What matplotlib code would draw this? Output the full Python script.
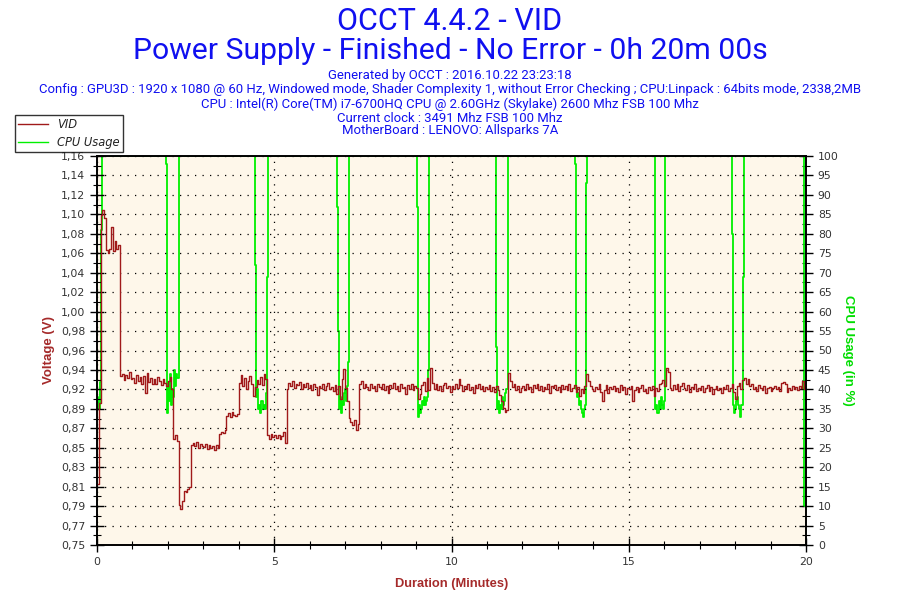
import numpy as np
import matplotlib
matplotlib.use("Agg")
import matplotlib.pyplot as plt
from matplotlib.ticker import FixedLocator, FixedFormatter, MultipleLocator

# ---------------- data ----------------
title_lines = ["OCCT 4.4.2 - VID",
               "Power Supply - Finished - No Error - 0h 20m 00s"]
info_lines = ["Generated by OCCT : 2016.10.22 23:23:18",
              "Config : GPU3D : 1920 x 1080 @ 60 Hz, Windowed mode, Shader Complexity 1, without Error Checking ; CPU:Linpack : 64bits mode, 2338,2MB",
              "CPU : Intel(R) Core(TM) i7-6700HQ CPU @ 2.60GHz (Skylake) 2600 Mhz FSB 100 Mhz",
              "Current clock : 3491 Mhz FSB 100 Mhz",
              "MotherBoard : LENOVO: Allsparks 7A"]

# VID samples every 0.05 minute (one row per minute)
vid = [
    0.815, 0.900, 1.100, 1.105, 1.096, 1.062, 1.059, 1.064, 1.087, 1.061, 1.072, 1.063, 1.068, 0.929, 0.931, 0.925, 0.930, 0.927, 0.933, 0.926,
    0.927, 0.922, 0.930, 0.924, 0.928, 0.921, 0.929, 0.911, 0.932, 0.923, 0.927, 0.920, 0.926, 0.920, 0.928, 0.924, 0.919, 0.926, 0.922, 0.918,
    0.924, 0.928, 0.915, 0.862, 0.867, 0.860, 0.792, 0.788, 0.797, 0.807, 0.806, 0.809, 0.811, 0.856, 0.858, 0.855, 0.859, 0.853, 0.857, 0.855,
    0.854, 0.857, 0.852, 0.856, 0.853, 0.855, 0.851, 0.856, 0.853, 0.868, 0.870, 0.869, 0.872, 0.887, 0.890, 0.886, 0.891, 0.888, 0.887, 0.889,
    0.922, 0.930, 0.918, 0.927, 0.915, 0.924, 0.929, 0.920, 0.908, 0.917, 0.925, 0.921, 0.928, 0.919, 0.931, 0.926, 0.866, 0.862, 0.868, 0.864,
    0.866, 0.863, 0.867, 0.862, 0.865, 0.870, 0.858, 0.915, 0.922, 0.918, 0.924, 0.916, 0.921, 0.919, 0.923, 0.915, 0.920, 0.917, 0.922, 0.916,
    0.919, 0.914, 0.921, 0.917, 0.909, 0.918, 0.916, 0.920, 0.914, 0.918, 0.922, 0.915, 0.917, 0.913, 0.919, 0.910, 0.918, 0.905, 0.926, 0.936,
    0.916, 0.903, 0.884, 0.880, 0.877, 0.882, 0.872, 0.878, 0.921, 0.924, 0.916, 0.920, 0.917, 0.914, 0.921, 0.916, 0.918, 0.913, 0.920, 0.917,
    0.915, 0.921, 0.914, 0.918, 0.911, 0.919, 0.916, 0.922, 0.915, 0.918, 0.913, 0.920, 0.916, 0.917, 0.910, 0.919, 0.915, 0.921, 0.914, 0.918,
    0.916, 0.905, 0.910, 0.919, 0.923, 0.913, 0.927, 0.914, 0.937, 0.922, 0.915, 0.920, 0.914, 0.918, 0.913, 0.919, 0.922, 0.916, 0.918, 0.912,
    0.918, 0.915, 0.921, 0.916, 0.926, 0.919, 0.913, 0.918, 0.915, 0.920, 0.914, 0.917, 0.911, 0.919, 0.916, 0.921, 0.915, 0.918, 0.913, 0.917,
    0.915, 0.919, 0.913, 0.917, 0.912, 0.918, 0.914, 0.909, 0.903, 0.895, 0.891, 0.893, 0.932, 0.924, 0.917, 0.920, 0.914, 0.918, 0.912, 0.916,
    0.918, 0.914, 0.920, 0.915, 0.917, 0.912, 0.919, 0.916, 0.921, 0.914, 0.918, 0.913, 0.917, 0.915, 0.920, 0.911, 0.918, 0.916, 0.919, 0.914,
    0.917, 0.912, 0.919, 0.915, 0.918, 0.914, 0.920, 0.913, 0.916, 0.919, 0.912, 0.917, 0.908, 0.915, 0.911, 0.918, 0.931, 0.924, 0.918, 0.915,
    0.913, 0.917, 0.915, 0.920, 0.912, 0.903, 0.914, 0.919, 0.911, 0.917, 0.915, 0.918, 0.913, 0.916, 0.912, 0.919, 0.914, 0.917, 0.910, 0.916,
    0.915, 0.918, 0.903, 0.914, 0.917, 0.912, 0.916, 0.919, 0.913, 0.915, 0.911, 0.917, 0.914, 0.918, 0.908, 0.916, 0.913, 0.920, 0.922, 0.925,
    0.918, 0.937, 0.933, 0.916, 0.914, 0.919, 0.915, 0.921, 0.913, 0.918, 0.922, 0.916, 0.914, 0.919, 0.912, 0.917, 0.915, 0.920, 0.913, 0.916,
    0.914, 0.918, 0.912, 0.916, 0.919, 0.913, 0.917, 0.910, 0.915, 0.918, 0.914, 0.916, 0.911, 0.917, 0.915, 0.919, 0.913, 0.916, 0.921, 0.912,
    0.905, 0.918, 0.922, 0.915, 0.925, 0.927, 0.920, 0.926, 0.918, 0.921, 0.915, 0.917, 0.913, 0.919, 0.916, 0.914, 0.918, 0.911, 0.916, 0.917,
    0.913, 0.916, 0.918, 0.915, 0.917, 0.913, 0.922, 0.923, 0.920, 0.912, 0.916, 0.914, 0.918, 0.915, 0.917, 0.914, 0.918, 0.916, 0.924, 0.915,
    0.917,
]
vid_minutes = np.arange(len(vid)) * 0.05

# CPU usage breakpoints (value holds until next time)
cpu_minutes = [
    0.00, 0.04, 0.08, 0.11, 0.14,
    1.95, 1.97, 2.00, 2.03, 2.06, 2.09, 2.12, 2.15, 2.18, 2.21, 2.24, 2.27, 2.30, 2.32,
    4.47, 4.49, 4.52, 4.55, 4.58, 4.61, 4.64, 4.67, 4.70, 4.73, 4.76, 4.79, 4.83,
    6.78, 6.80, 6.82, 6.85, 6.88, 6.91, 6.94, 6.97, 7.00, 7.03, 7.06, 7.09, 7.12,
    9.03, 9.05, 9.08, 9.11, 9.14, 9.17, 9.20, 9.23, 9.26, 9.29, 9.32, 9.34, 9.36,
    11.26, 11.28, 11.31, 11.34, 11.37, 11.40, 11.43, 11.46, 11.49, 11.52, 11.55, 11.58,
    13.48, 13.50, 13.53, 13.56, 13.59, 13.62, 13.65, 13.68, 13.71, 13.74, 13.77, 13.79, 13.81,
    15.73, 15.75, 15.78, 15.81, 15.84, 15.87, 15.90, 15.93, 15.96, 15.99, 16.01, 16.03,
    17.92, 17.94, 17.97, 18.00, 18.03, 18.06, 18.09, 18.12, 18.15, 18.18, 18.21, 18.23, 18.25,
    19.93, 19.95, 20.00,
]
cpu_usage = [
    38, 35, 42, 81, 100,
    98, 34, 42, 37, 44, 36, 40, 38, 45, 41, 44, 43, 47, 100,
    72, 38, 40, 35, 36, 34, 37, 35, 36, 35, 39, 69, 100,
    87, 55, 35, 38, 34, 37, 36, 39, 40, 37, 41, 47, 100,
    87, 33, 36, 34, 35, 37, 36, 38, 36, 37, 38, 45, 100,
    51, 35, 37, 34, 36, 35, 38, 36, 37, 39, 40, 100,
    98, 40, 38, 39, 36, 37, 35, 34, 33, 35, 36, 93, 100,
    37, 35, 36, 34, 37, 35, 38, 36, 35, 37, 79, 100,
    80, 36, 34, 35, 37, 38, 36, 35, 33, 36, 38, 69, 100,
    55, 10, 10,
]

volt_tick_labels = ["0,75", "0,77", "0,79", "0,81", "0,83", "0,85", "0,87", "0,89",
                    "0,92", "0,94", "0,96", "0,98", "1,00", "1,02", "1,04", "1,06",
                    "1,08", "1,10", "1,12", "1,14", "1,16"]
cpu_tick_labels = [str(v) for v in range(0, 101, 5)]
x_tick_labels = ["0", "5", "10", "15", "20"]

# ---------------- style ----------------
VID_C = "#A01A1A"
CPU_C = "#00F000"
BLUE = "#1010F0"
BG = "#FEF7EA"
LBL_RED = "#A52A2A"
TITLE_FONT = ["Roboto", "DejaVu Sans"]

fig = plt.figure(figsize=(9, 6), dpi=100)
fig.patch.set_facecolor("white")
ax = fig.add_axes([97/900, 1-545/600, 709/900, 389/600])
ax2 = ax.twinx()
ax.set_zorder(2)
ax2.set_zorder(1)
ax.patch.set_visible(False)
ax2.patch.set_visible(True)
ax2.patch.set_facecolor(BG)

v_lo = 0.75
v_step = 0.0206
v_ticks = [v_lo + i * v_step for i in range(len(volt_tick_labels))]
ax.set_ylim(v_ticks[0], v_ticks[-1])
ax.set_xlim(0, 20)
ax2.set_ylim(0, 100)

l2, = ax2.plot(cpu_minutes, cpu_usage, color=CPU_C, lw=1.3, drawstyle="steps-post", label="CPU Usage")
l1, = ax.plot(vid_minutes, vid, color=VID_C, lw=1.0, drawstyle="steps-post", label="VID")

ax.yaxis.set_major_locator(FixedLocator(v_ticks))
ax.yaxis.set_major_formatter(FixedFormatter(volt_tick_labels))
ax.yaxis.set_minor_locator(FixedLocator([v + v_step/2 for v in v_ticks[:-1]]))
ax2.yaxis.set_major_locator(FixedLocator(range(0, 101, 5)))
ax2.yaxis.set_major_formatter(FixedFormatter(cpu_tick_labels))
ax2.yaxis.set_minor_locator(MultipleLocator(2.5))
ax.xaxis.set_major_locator(FixedLocator([0, 5, 10, 15, 20]))
ax.xaxis.set_major_formatter(FixedFormatter(x_tick_labels))
ax.xaxis.set_minor_locator(MultipleLocator(1))

for a in (ax, ax2):
    a.tick_params(which="major", direction="inout", length=10, width=1.0, colors="black",
                  labelcolor="#333333", labelsize=7.8)
    a.tick_params(which="minor", direction="inout", length=6, width=0.8, colors="black")
    for s in a.spines.values():
        s.set_linewidth(1.2)
        s.set_color("black")

ax.grid(True, which="major", axis="both", color="black", linestyle=(0, (1, 5)), linewidth=0.9)

ax.set_ylabel("Voltage (V)", color=LBL_RED, fontweight="bold", fontsize=9.5, family="Liberation Sans")
ax.yaxis.set_label_coords(-0.059, 0.5)
ax2.set_ylabel("CPU Usage (in %)", color="#00DD00", fontweight="bold", fontsize=9.5,
               family="Liberation Sans", rotation=270, va="center")
ax2.yaxis.set_label_coords(1.059, 0.5)
ax.set_xlabel("Duration (Minutes)", color=LBL_RED, fontweight="bold", fontsize=9.3, family="Liberation Sans")
ax.xaxis.set_label_coords(0.5, -0.085)

# titles
renderer = fig.canvas.get_renderer()
def fit(t, target):
    bb = t.get_window_extent(renderer)
    t.set_fontsize(t.get_fontsize() * target / bb.width)

t1 = fig.text(0.5, 1-21/600, title_lines[0], ha="center", va="center", color=BLUE, fontsize=18, family=TITLE_FONT)
t2 = fig.text(0.5, 1-51/600, title_lines[1], ha="center", va="center", color=BLUE, fontsize=18, family=TITLE_FONT)
fit(t1, 226)
fit(t2, 634)
info_y = [76, 90, 104, 118, 131]
infos = [fig.text(0.5, 1-yy/600, s, ha="center", va="center", color=BLUE, fontsize=8, family=TITLE_FONT)
         for s, yy in zip(info_lines, info_y)]
fit(infos[1], 824)
for t in infos:
    t.set_fontsize(infos[1].get_fontsize())

leg = fig.legend(handles=[l1, l2], loc="upper left", bbox_to_anchor=(15/900, 1-115/600),
                 frameon=True, fancybox=False, shadow=False, edgecolor="black",
                 prop={"style": "italic", "size": 8.3}, handlelength=2.6,
                 borderpad=0.25, labelspacing=0.45, handletextpad=0.8, borderaxespad=0)
leg.get_frame().set_linewidth(1.0)
for txt in leg.get_texts():
    txt.set_color("#222222")
for h in leg.legend_handles:
    h.set_linewidth(1.0)

fig.savefig("out.png", dpi=100)
